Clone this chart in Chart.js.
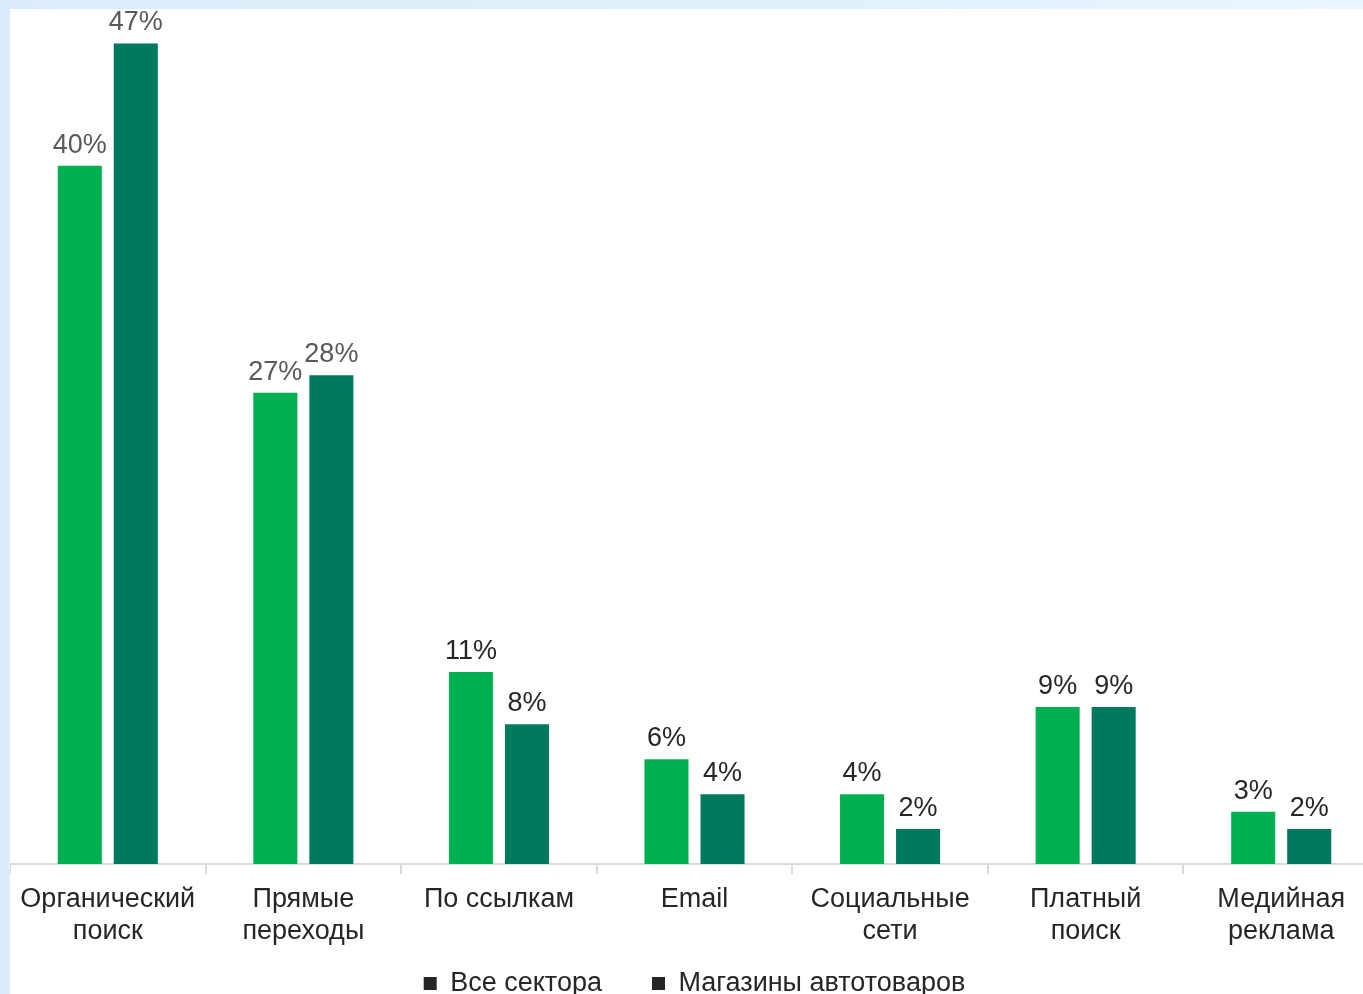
<!DOCTYPE html>
<html lang="ru">
<head>
    <meta charset="UTF-8">
    <title>Источники трафика</title>
    <script src="https://cdn.jsdelivr.net/npm/chart.js"></script>
    <style>
        html, body { margin: 0; padding: 0; overflow: hidden; }
        body {
            width: 1363px; height: 994px;
            background: linear-gradient(90deg, #dcecfc 0%, #e0f0fd 60%, #eaf5fe 100%);
            position: relative;
        }
        #box {
            position: absolute; left: 10px; top: 9px;
            width: 1369px; height: 998px;
            background: #ffffff;
        }
    </style>
</head>
<body>
    <div id="box"><canvas id="trafficChart"></canvas></div>

    <script>
        // данные с картинки
        const categories = [
            ['Органический', 'поиск'],
            ['Прямые', 'переходы'],
            'По ссылкам',
            'Email',
            ['Социальные', 'сети'],
            ['Платный', 'поиск'],
            ['Медийная', 'реклама']
        ];
        const allSectors = [40, 27, 11, 6, 4, 9, 3];
        const autoShops = [47, 28, 8, 4, 2, 9, 2];
        const seriesNames = ['Все сектора', 'Магазины автотоваров'];

        const fontFamily = '"Liberation Sans", Arial, sans-serif';
        const squeeze = 38; // легенда ближе к оси

        // подписи над столбцами
        const barLabels = {
            id: 'barLabels',
            afterLayout(chart) {
                // вернуть высоту оси, чтобы подписи не обрезались
                chart.scales.x.bottom += squeeze;
                chart.scales.x.height += squeeze;
            },
            afterDatasetsDraw(chart) {
                const ctx = chart.ctx;
                ctx.save();
                ctx.font = '27px ' + fontFamily;
                ctx.textAlign = 'center';
                ctx.textBaseline = 'alphabetic';
                chart.data.datasets.forEach((ds, i) => {
                    chart.getDatasetMeta(i).data.forEach((bar, j) => {
                        ctx.fillStyle = j < 2 ? '#595959' : '#262626';
                        ctx.fillText(ds.data[j] + '%', bar.x, bar.y - 13);
                    });
                });
                ctx.restore();
            }
        };

        const ctx = document.getElementById('trafficChart').getContext('2d');
        new Chart(ctx, {
            type: 'bar',
            data: {
                labels: categories,
                datasets: [
                    { label: seriesNames[0], data: allSectors, backgroundColor: '#00b050' },
                    { label: seriesNames[1], data: autoShops, backgroundColor: '#00795c' }
                ]
            },
            options: {
                responsive: true,
                maintainAspectRatio: false,
                animation: false,
                categoryPercentage: 0.573,
                barPercentage: 0.786,
                layout: { padding: { top: 17, left: 0, right: 0, bottom: 0 } },
                plugins: {
                    tooltip: { enabled: false },
                    legend: {
                        position: 'bottom',
                        labels: {
                            boxWidth: 13,
                            boxHeight: 13,
                            padding: 50,
                            color: '#262626',
                            font: { family: fontFamily, size: 27 },
                            generateLabels(chart) {
                                return chart.data.datasets.map((ds, i) => ({
                                    text: ds.label,
                                    fillStyle: '#262626',
                                    strokeStyle: '#262626',
                                    lineWidth: 0,
                                    fontColor: '#262626',
                                    datasetIndex: i
                                }));
                            }
                        }
                    }
                },
                scales: {
                    x: {
                        afterFit(scale) { scale.height -= squeeze; },
                        grid: {
                            drawOnChartArea: false,
                            drawTicks: true,
                            tickLength: 10,
                            color: '#d9d9d9',
                            lineWidth: 2
                        },
                        border: { color: '#d9d9d9', width: 2 },
                        ticks: {
                            color: '#262626',
                            padding: 10,
                            maxRotation: 0,
                            autoSkip: false,
                            font: { family: fontFamily, size: 27, lineHeight: 1.185 }
                        }
                    },
                    y: {
                        display: false,
                        min: 0,
                        max: 48
                    }
                }
            },
            plugins: [barLabels]
        });
    </script>
</body>
</html>
